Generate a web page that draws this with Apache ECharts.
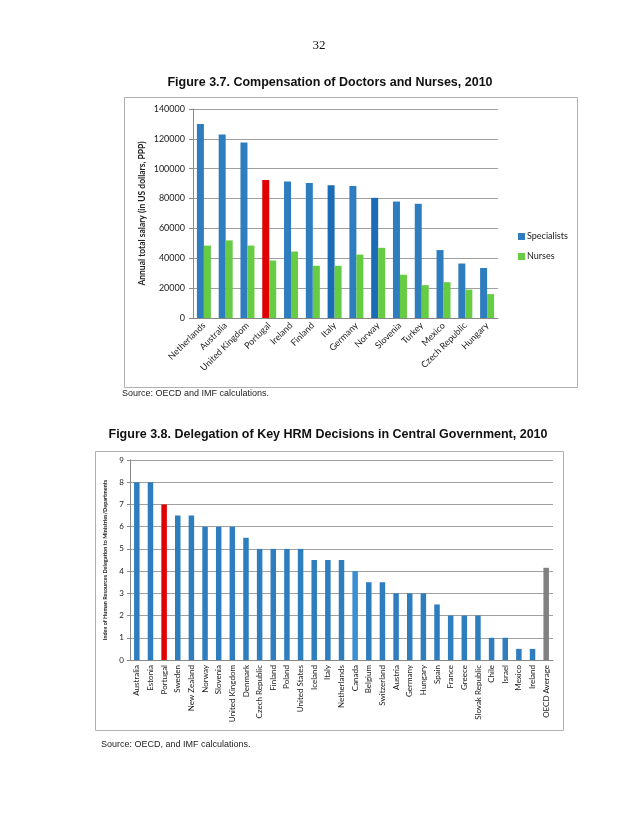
<!DOCTYPE html>
<html>
<head>
<meta charset="utf-8">
<script src="https://cdn.jsdelivr.net/npm/echarts@6/dist/echarts.min.js"></script>
<style>html,body{margin:0;padding:0;background:#fff;}#c{width:638px;height:826px;}</style>
</head>
<body>
<div id="c"></div>
<script>
// Figure 3.7 data
const countries1 = ['Netherlands','Australia','United Kingdom','Portugal','Ireland','Finland','Italy','Germany','Norway','Slovenia','Turkey','Mexico','Czech Republic','Hungary'];
const specialists = [130000,123000,117500,92500,91500,90500,89000,88500,80500,78000,76500,45500,36500,33500];
const nurses = [48500,52000,48500,38500,44500,35000,35000,42500,47000,29000,22000,24000,19000,16000];
const yTicks1 = [0,20000,40000,60000,80000,100000,120000,140000];

// Figure 3.8 data
const countries2 = ['Australia','Estonia','Portugal','Sweden','New Zealand','Norway','Slovenia','United Kingdom','Denmark','Czech Republic','Finland','Poland','United States','Iceland','Italy','Netherlands','Canada','Belgium','Switzerland','Austria','Germany','Hungary','Spain','France','Greece','Slovak Republic','Chile','Israel','Mexico','Ireland','OECD Average'];
const hrmIndex = [8,8,7,6.5,6.5,6,6,6,5.5,5,5,5,5,4.5,4.5,4.5,4,3.5,3.5,3,3,3,2.5,2,2,2,1,1,0.5,0.5,4.15];
const yTicks2 = [0,1,2,3,4,5,6,7,8,9];

const BLUE = '#2E7DBE', DARKBLUE = '#1A6CB6', RED = '#E00000', GREEN = '#66CC44', LIGHTBLUE = '#3A8ED2', GREY = '#808080';

const specData = specialists.map((v,i)=>{
  let c = BLUE;
  if (countries1[i]==='Portugal') c = RED;
  else if (countries1[i]==='Italy' || countries1[i]==='Norway') c = DARKBLUE;
  return {value:v, itemStyle:{color:c}};
});
const hrmData = hrmIndex.map((v,i)=>{
  let c = BLUE;
  if (countries2[i]==='Portugal') c = RED;
  else if (countries2[i]==='Canada') c = LIGHTBLUE;
  else if (countries2[i]==='OECD Average') c = GREY;
  return {value:v, itemStyle:{color:c}};
});

const chart = echarts.init(document.getElementById('c'), null, {renderer:'canvas'});
const lab = {fontFamily:'Lato, "Open Sans", sans-serif', color:'#222'};
chart.setOption({
  animation:false,
  backgroundColor:'#fff',
  graphic:[
    {type:'text', left:'center', top:39, style:{text:'32', font:'13px "Liberation Serif", serif', fill:'#111'}},
    {type:'text', x:330, y:76, style:{text:'Figure 3.7. Compensation of Doctors and Nurses, 2010', font:'bold 12.5px "Liberation Sans", Arial, sans-serif', fill:'#111', textAlign:'center'}},
    {type:'rect', shape:{x:124.5, y:97.5, width:453, height:290}, style:{fill:'none', stroke:'#b0b0b0', lineWidth:1}, z:-1},
    {type:'text', x:122, y:389, style:{text:'Source: OECD and IMF calculations.', font:'9px "Liberation Sans", Arial, sans-serif', fill:'#222'}},
    {type:'text', x:328, y:428, style:{text:'Figure 3.8. Delegation of Key HRM Decisions in Central Government, 2010', font:'bold 12.5px "Liberation Sans", Arial, sans-serif', fill:'#111', textAlign:'center'}},
    {type:'rect', shape:{x:95.5, y:451.5, width:468, height:279}, style:{fill:'none', stroke:'#b0b0b0', lineWidth:1}, z:-1},
    {type:'text', x:101, y:740, style:{text:'Source: OECD, and IMF calculations.', font:'9px "Liberation Sans", Arial, sans-serif', fill:'#222'}}
  ],
  legend:{
    data:['Specialists','Nurses'], orient:'vertical', left:513, top:227, itemWidth:7, itemHeight:7, itemGap:11,
    icon:'rect', textStyle:{...lab, fontSize:9, padding:[0,0,0,-3]}
  },
  grid:[
    {left:193, top:109, width:305, height:209},
    {left:130, top:460, width:423, height:200}
  ],
  xAxis:[
    {type:'category', gridIndex:0, data:countries1,
      axisLine:{lineStyle:{color:'#888'}}, axisTick:{length:4, lineStyle:{color:'#888'}},
      axisLabel:{...lab, fontSize:9, rotate:45, interval:0, margin:6}},
    {type:'category', gridIndex:1, data:countries2,
      axisLine:{lineStyle:{color:'#888'}}, axisTick:{length:3, lineStyle:{color:'#888'}},
      axisLabel:{...lab, fontSize:8, rotate:90, interval:0, margin:5}}
  ],
  yAxis:[
    {type:'value', gridIndex:0, min:yTicks1[0], max:yTicks1[yTicks1.length-1], interval:yTicks1[1]-yTicks1[0],
      name:'Annual total salary (in US dollars, PPP)', nameLocation:'middle', nameRotate:90, nameGap:46,
      nameTextStyle:{...lab, fontSize:8.5, fontWeight:'bold'},
      axisLine:{show:true, lineStyle:{color:'#888'}}, axisTick:{show:true, length:4, lineStyle:{color:'#888'}},
      splitLine:{lineStyle:{color:'#a0a0a0'}},
      axisLabel:{...lab, fontSize:9, margin:8, formatter:v=>String(v)}},
    {type:'value', gridIndex:1, min:yTicks2[0], max:yTicks2[yTicks2.length-1], interval:1,
      name:'Index of Human Resources Delegation to Ministries/Departments', nameLocation:'middle', nameRotate:90, nameGap:18,
      nameTextStyle:{...lab, fontSize:5.5, fontWeight:'bold'},
      axisLine:{show:true, lineStyle:{color:'#888'}}, axisTick:{show:true, length:3, lineStyle:{color:'#888'}},
      splitLine:{lineStyle:{color:'#a0a0a0'}},
      axisLabel:{...lab, fontSize:8, margin:6, formatter:v=>String(v)}}
  ],
  series:[
    {name:'Specialists', type:'bar', xAxisIndex:0, yAxisIndex:0, data:specData, barWidth:7, barGap:'0%', itemStyle:{color:BLUE}},
    {name:'Nurses', type:'bar', xAxisIndex:0, yAxisIndex:0, data:nurses, barWidth:7, barGap:'0%', itemStyle:{color:GREEN}},
    {name:'HRM', type:'bar', xAxisIndex:1, yAxisIndex:1, data:hrmData, barWidth:5.5, itemStyle:{color:BLUE}}
  ]
});
</script>
</body>
</html>
